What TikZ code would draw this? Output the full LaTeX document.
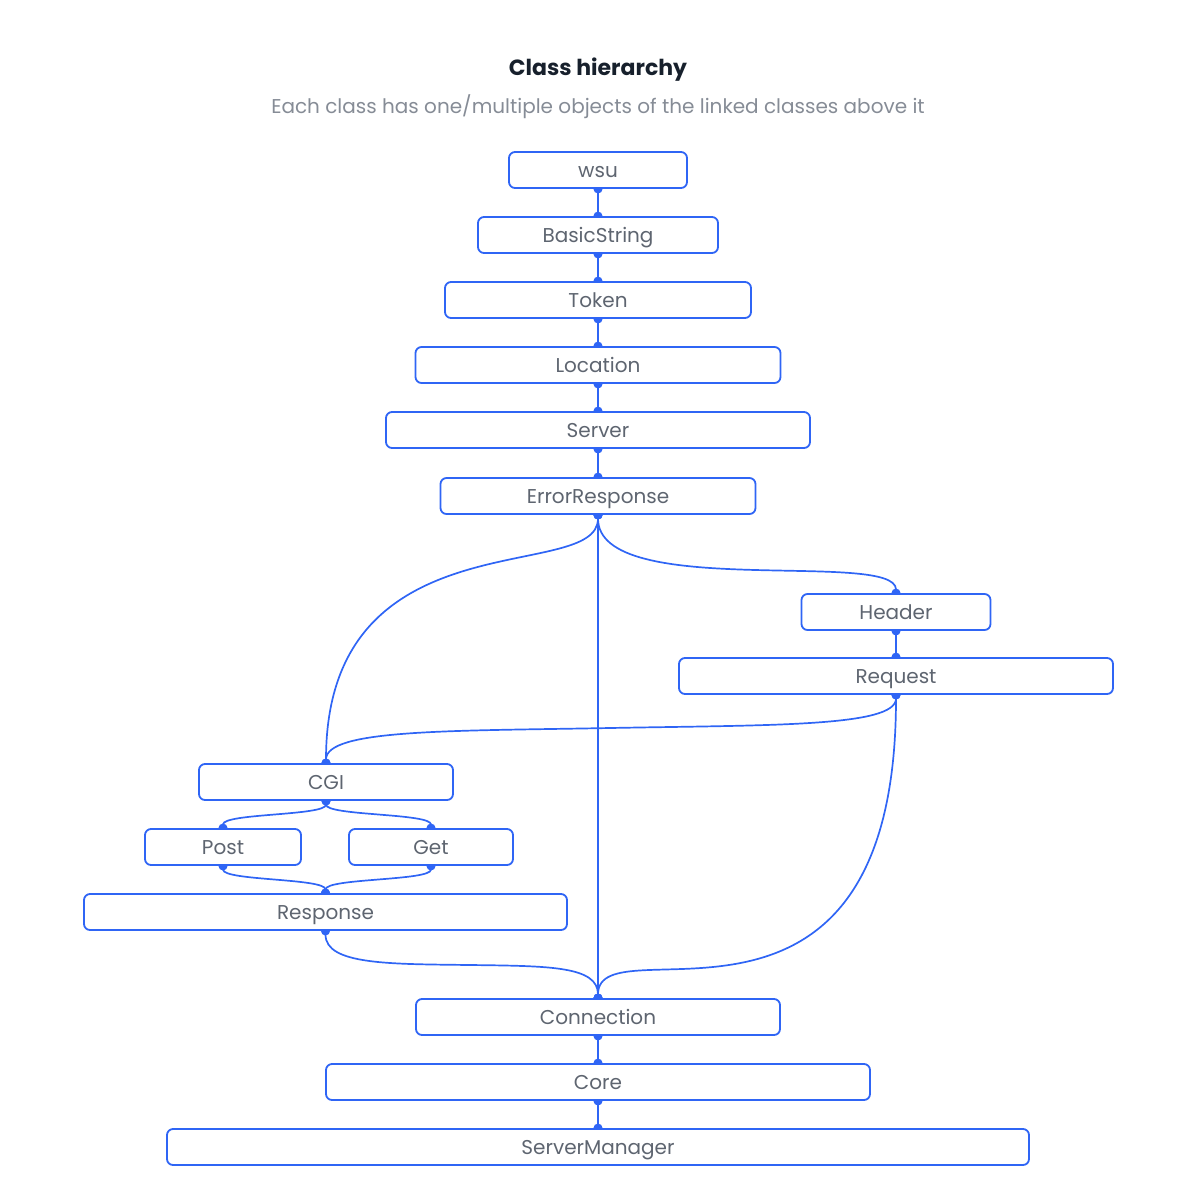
\documentclass[tikz,border=0pt]{standalone}
\usepackage{fontspec}
\setmainfont{Poppins}
\usetikzlibrary{arrows.meta}
\usetikzlibrary{backgrounds}
\usetikzlibrary{math}

\definecolor{LinkBlue}{HTML}{2F65F5}
\definecolor{LabelGray}{HTML}{5E6570}
\definecolor{TitleInk}{HTML}{17202C}
\definecolor{NoteGray}{HTML}{868C96}

\begin{document}
\begin{tikzpicture}[x=1pt, y=-1pt,
    classbox/.style={draw=LinkBlue, line width=1.8pt, rounded corners=6pt,
        fill=white, minimum height=\BoxHeight, inner sep=0pt,
        text height=16pt, text depth=2pt,
        text=LabelGray, font=\fontsize{20}{24}\selectfont},
    link/.style={draw=LinkBlue, line width=1.7pt,
        {Circle[length=9pt]}-{Circle[length=9pt]},
        shorten <=-4.5pt, shorten >=-4.5pt}]

% Size settings
\tikzmath{
    \BoxHeight = 36;
    \MidX = 598;
}

\useasboundingbox (0,0) rectangle (1196,1200);

% Writes title
\node [text=TitleInk, font=\fontsize{22}{26}\selectfont\bfseries] (Title) at (\MidX,70) {Class hierarchy};
\node [text=NoteGray, font=\fontsize{20}{24}\selectfont] (Subtitle) at (\MidX,107) {Each class has one/multiple objects of the linked classes above it};

% Draws classes
\node [classbox, minimum width=178] (Wsu) at (\MidX,170) {wsu};
\node [classbox, minimum width=240] (BasicString) at (\MidX,235) {BasicString};
\node [classbox, minimum width=306] (Token) at (\MidX,300) {Token};
\node [classbox, minimum width=365] (Location) at (\MidX,365) {Location};
\node [classbox, minimum width=424] (Server) at (\MidX,430) {Server};
\node [classbox, minimum width=315] (ErrorResponse) at (\MidX,496) {ErrorResponse};
\node [classbox, minimum width=189] (Header) at (896,612) {Header};
\node [classbox, minimum width=434] (Request) at (896,676) {Request};
\node [classbox, minimum width=254] (Cgi) at (326,782) {CGI};
\node [classbox, minimum width=156] (Post) at (223,847) {Post};
\node [classbox, minimum width=164] (Get) at (431,847) {Get};
\node [classbox, minimum width=483] (Response) at (325.5,912) {Response};
\node [classbox, minimum width=364] (Connection) at (\MidX,1017) {Connection};
\node [classbox, minimum width=544] (Core) at (\MidX,1082) {Core};
\node [classbox, minimum width=862] (ServerManager) at (\MidX,1147) {ServerManager};

% Bend points of the long links
\coordinate (RequestBend) at (610,728);
\coordinate (ResponseBend) at (470,965);

% Draws links behind the classes
\begin{scope}[on background layer]
\draw [link] (Wsu.south) -- (BasicString.north);
\draw [link] (BasicString.south) -- (Token.north);
\draw [link] (Token.south) -- (Location.north);
\draw [link] (Location.south) -- (Server.north);
\draw [link] (Server.south) -- (ErrorResponse.north);
\draw [link] (ErrorResponse.south) .. controls +(0,70) and +(0,-250) .. (Cgi.north);
\draw [link] (ErrorResponse.south) .. controls +(0,86) and +(0,-44) .. (Header.north);
\draw [link] (ErrorResponse.south) -- (Connection.north);
\draw [link] (Header.south) -- (Request.north);
\draw [link] (Request.south) .. controls +(0,32) and +(160,-3) .. (RequestBend)
    .. controls +(-160,3) and +(0,-34) .. (Cgi.north);
\draw [link] (Request.south) .. controls +(0,386) and +(0,-79) .. (Connection.north);
\draw [link] (Cgi.south) .. controls +(0,15) and +(0,-15) .. (Post.north);
\draw [link] (Cgi.south) .. controls +(0,15) and +(0,-15) .. (Get.north);
\draw [link] (Post.south) .. controls +(0,15) and +(0,-15) .. (Response.north);
\draw [link] (Get.south) .. controls +(0,15) and +(0,-15) .. (Response.north);
\draw [link] (Response.south) .. controls +(0,34) and +(-80,-1) .. (ResponseBend)
    .. controls +(80,1) and +(0,-32) .. (Connection.north);
\draw [link] (Connection.south) -- (Core.north);
\draw [link] (Core.south) -- (ServerManager.north);
\end{scope}

\end{tikzpicture}
\end{document}
